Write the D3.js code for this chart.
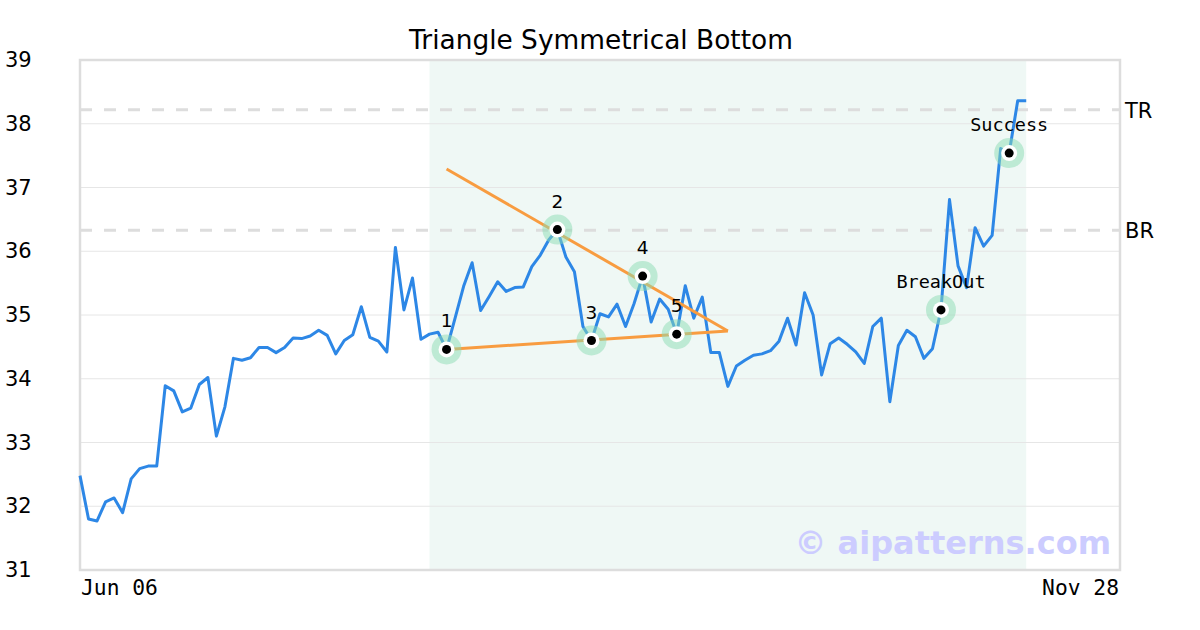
<!DOCTYPE html>
<html><head><meta charset="utf-8">
<script src="https://cdn.jsdelivr.net/npm/d3@7"></script>
<style>body{margin:0;background:#fff}</style>
</head><body>
<svg id="c" width="1200" height="630"></svg>
<script>
const title = "Triangle Symmetrical Bottom";
const prices = [32.48,31.80,31.77,32.07,32.13,31.90,32.43,32.59,32.63,32.63,
33.89,33.81,33.48,33.54,33.91,34.02,33.10,33.56,34.32,34.29,
34.33,34.49,34.49,34.41,34.49,34.64,34.63,34.67,34.76,34.68,
34.39,34.60,34.69,35.13,34.65,34.59,34.42,36.06,35.08,35.58,
34.62,34.70,34.73,34.46,34.95,35.45,35.82,35.07,35.29,35.52,
35.37,35.43,35.44,35.76,35.94,36.18,36.34,35.91,35.68,34.82,
34.60,35.02,34.97,35.17,34.82,35.18,35.61,34.89,35.25,35.09,
34.70,35.46,34.95,35.28,34.41,34.41,33.88,34.20,34.29,34.37,
34.39,34.44,34.59,34.95,34.53,35.35,35.00,34.06,34.55,34.64,
34.54,34.42,34.24,34.82,34.95,33.64,34.52,34.76,34.66,34.32,
34.47,35.08,36.81,35.77,35.43,36.37,36.08,36.25,37.61,37.54,
38.36,38.36];
const xTickLabels = ["Jun 06","Nov 28"];
const yTicks = [31,32,33,34,35,36,37,38,39];
const pointIdx = [43,56,60,66,70,101,109];
const pointLabels = ["1","2","3","4","5","BreakOut","Success"];
const topLine = [[43,37.29],[76,34.75]];
const bottomLine = [[43,34.46],[76,34.75]];
const levels = [{name:"TR",v:38.22},{name:"BR",v:36.33}];
const shade = [41,111];
const xMax = 122;

const svg = d3.select("#c");
const L=80,R=1120,T=60,B=570;
const x = d3.scaleLinear().domain([0,xMax]).range([L,R]);
const y = d3.scaleLinear().domain([31,39]).range([B,T]);

svg.append("text").attr("x",601).attr("y",49).attr("text-anchor","middle")
  .attr("font-family","DejaVu Sans").attr("font-size",26.4).attr("fill","#000").text(title);

// shading
svg.append("rect").attr("x",x(shade[0])).attr("y",T).attr("width",x(shade[1])-x(shade[0]))
  .attr("height",B-T).attr("fill","#eff8f5");

// grid
svg.append("g").selectAll("line").data(yTicks.slice(1,-1)).join("line")
  .attr("x1",L).attr("x2",R).attr("y1",d=>y(d)).attr("y2",d=>y(d))
  .attr("stroke","#e6e6e6").attr("stroke-width",1);

// y labels
const yAxis = d3.axisLeft(y).tickValues(yTicks).tickSize(0).tickFormat(d3.format("d"));
const ga = svg.append("g").attr("transform",`translate(${L},0)`).call(yAxis);
ga.select(".domain").remove();
ga.selectAll("text").attr("x",-75).attr("text-anchor","start")
  .attr("font-family","DejaVu Sans").attr("font-size",21).attr("fill","#000");

// dashed levels
levels.forEach(l=>{
  svg.append("line").attr("x1",L).attr("x2",R).attr("y1",y(l.v)).attr("y2",y(l.v))
    .attr("stroke","#dddddd").attr("stroke-width",3).attr("stroke-dasharray","12,12");
  svg.append("text").attr("x",R+5).attr("y",y(l.v)+8).attr("font-family","DejaVu Sans")
    .attr("font-size",21).attr("fill","#000").text(l.name);
});

// frame
svg.append("rect").attr("x",L).attr("y",T).attr("width",R-L).attr("height",B-T)
  .attr("fill","none").attr("stroke","#dddddd").attr("stroke-width",2.5);

// watermark
svg.append("text").attr("x",1111).attr("y",554).attr("text-anchor","end")
  .attr("font-family","DejaVu Sans").attr("font-weight","bold").attr("font-size",32)
  .attr("fill","#ccccff").text("© aipatterns.com");

// x labels
svg.append("text").attr("x",L+1).attr("y",595).attr("font-family","DejaVu Sans Mono")
  .attr("font-size",21.3).attr("fill","#000").text(xTickLabels[0]);
svg.append("text").attr("x",R-1).attr("y",595).attr("text-anchor","end").attr("font-family","DejaVu Sans Mono")
  .attr("font-size",21.3).attr("fill","#000").text(xTickLabels[1]);

// price line
const line = d3.line().x((d,i)=>x(i)).y(d=>y(d));
svg.append("path").datum(prices).attr("d",line).attr("fill","none")
  .attr("stroke","#2d87e6").attr("stroke-width",3).attr("stroke-linejoin","round");

// trend lines
const tl = d3.line().x(d=>x(d[0])).y(d=>y(d[1]));
[topLine,bottomLine].forEach(l=>svg.append("path").datum(l).attr("d",tl)
  .attr("fill","none").attr("stroke","#f89c40").attr("stroke-width",3));

// markers
const g = svg.append("g");
pointIdx.forEach((idx,k)=>{
  const cx=x(idx), cy=y(prices[idx]);
  g.append("circle").attr("cx",cx).attr("cy",cy).attr("r",15).attr("fill","rgba(140,220,180,0.5)");
  g.append("circle").attr("cx",cx).attr("cy",cy).attr("r",8).attr("fill","#fff");
  g.append("circle").attr("cx",cx).attr("cy",cy).attr("r",4.5).attr("fill","#000");
  const isWord = pointLabels[k].length>1;
  g.append("text").attr("x",cx).attr("y",cy-22).attr("text-anchor","middle")
    .attr("font-family",isWord?"DejaVu Sans Mono":"DejaVu Sans").attr("font-size",18.5)
    .attr("fill","#000").text(pointLabels[k]);
});
</script>
</body></html>
